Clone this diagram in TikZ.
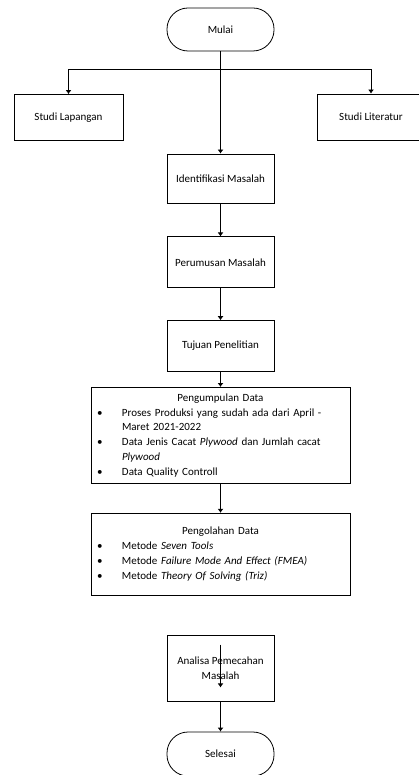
\documentclass[tikz,border=0pt]{standalone}
\usepackage{fontspec}
\setmainfont{Carlito}
\usetikzlibrary{arrows.meta,positioning,calc}

\newcommand{\bitem}[1]{\par\hangindent=25pt\hangafter=1\noindent\makebox[25pt][l]{\textbullet}#1}

\begin{document}
\begin{tikzpicture}[
  x=1pt, y=1pt,
  font=\fontsize{11}{14.8}\selectfont,
  box/.style={draw, rectangle, minimum width=107pt, minimum height=50pt, align=center},
  term/.style={draw, rectangle, rounded corners=21pt, minimum width=107pt, minimum height=43pt},
  listbox/.style={draw, rectangle, text width=247pt, inner xsep=6pt, inner ysep=2pt},
  line width=0.8pt,
  arr/.style={-{Latex[length=4pt,width=6pt]}}
]
  \useasboundingbox (0,0) rectangle (418,-775);

  \node[term] (mulai) at (220.5,-29.5) {Mulai};
  \node[box, minimum width=109pt, minimum height=46pt] (lap) at (68.5,-117.5) {Studi Lapangan};
  \node[box, minimum width=108pt, minimum height=46pt] (lit) at (371,-117) {Studi Literatur};

  \node[box, minimum height=49pt] (idn) at (220.5,-178.5) {Identifikasi Masalah};
  \node[box, minimum height=51pt, below=33pt of idn] (rumus) {Perumusan Masalah};
  \node[box, minimum height=51pt, below=32pt of rumus] (tuj) {Tujuan Penelitian};

  \node[listbox, minimum height=96pt, below=15pt of tuj] (kumpul) {%
    \centering Pengumpulan Data\par\raggedright
    \bitem{Proses Produksi yang sudah ada dari April -\newline Maret 2021-2022}
    \bitem{Data Jenis Cacat \textit{Plywood} dan Jumlah cacat\newline \textit{Plywood}}
    \bitem{Data Quality Controll}\par};
  \node[listbox, minimum height=82pt, below=29pt of kumpul] (olah) {%
    \centering Pengolahan Data\par\raggedright
    \bitem{Metode \textit{Seven Tools}}
    \bitem{Metode \textit{Failure Mode And Effect (FMEA)}}
    \bitem{Metode \textit{Theory Of Solving (Triz)}}\par};

  \node[box, minimum height=66pt] (anls) at (220.5,-668) {Analisa Pemecahan\\Masalah};
  \node[term, minimum height=44pt] (selesai) at (220.5,-754) {Selesai};

  % percabangan dari mulai
  \coordinate (split) at ($(mulai.south)+(0,-18)$);
  \draw[arr] (mulai.south) -- (idn.north);
  \draw[arr] (split) -| (lap.north);
  \draw[arr] (split) -| (lit.north);

  \draw[arr] (idn) -- (rumus);
  \draw[arr] (rumus) -- (tuj);
  \draw[arr] (tuj) -- (kumpul);
  \draw[arr] (kumpul) -- (olah);

  % panah di dalam kotak analisa
  \coordinate (a1) at ($(anls.north)+(0,-10)$);
  \coordinate (a2) at ($(anls.south)+(0,14)$);
  \draw[arr] (a1) -- (a2);
  \draw[arr] (anls) -- (selesai);
\end{tikzpicture}
\end{document}
